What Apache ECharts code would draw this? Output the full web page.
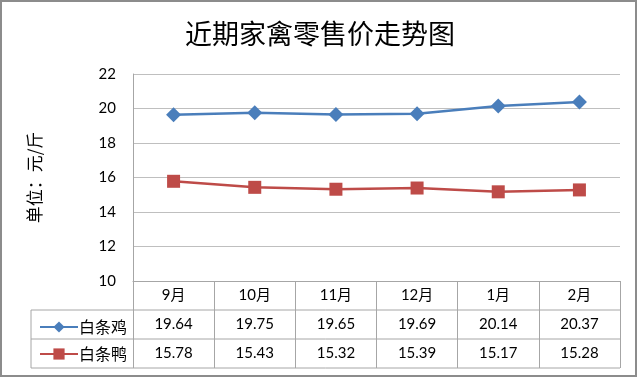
<!DOCTYPE html>
<html>
<head>
<meta charset="utf-8">
<style>
  html, body { margin: 0; padding: 0; background: #fff; }
  #chart { width: 640px; height: 378px; }
</style>
<script src="https://cdn.jsdelivr.net/npm/echarts@6/dist/echarts.min.js"></script>
</head>
<body>
<div id="chart"></div>
<script>
var months = ['9月', '10月', '11月', '12月', '1月', '2月'];
var chickenPrices = [19.64, 19.75, 19.65, 19.69, 20.14, 20.37];
var duckPrices = [15.78, 15.43, 15.32, 15.39, 15.17, 15.28];
var seriesNames = ['白条鸡', '白条鸭'];

var chart = echarts.init(document.getElementById('chart'));

var latin = 'Lato, "Noto Sans CJK SC", sans-serif';
var cjk = '"Noto Sans CJK SC", sans-serif';
var lineGray = '#a6a6a6';

// table geometry (pixels)
var gridLeft = 133, gridRight = 620, gridBottomY = 281;
var rowH = 29, tableLeft = 31;

function valueAxis(values, offset) {
    return {
        type: 'category',
        position: 'bottom',
        offset: offset,
        data: values.map(function (v) { return v.toFixed(2); }),
        axisLine: { show: false },
        axisTick: { show: false },
        axisLabel: { margin: 7, fontSize: 15, color: '#000', fontFamily: latin }
    };
}

var option = {
    animation: false,
    title: {
        text: '近期家禽零售价走势图',
        left: 'center',
        top: 15,
        textStyle: { fontSize: 27, fontWeight: 'normal', color: '#000', fontFamily: cjk }
    },
    legend: {
        orient: 'vertical',
        left: 34,
        top: 314,
        itemWidth: 38,
        itemHeight: 14,
        itemGap: 11,
        selectedMode: false,
        data: seriesNames,
        textStyle: { fontSize: 16, color: '#000', fontFamily: cjk, padding: [0, 0, 0, -4] }
    },
    grid: { left: gridLeft, right: 640 - gridRight, top: 74, bottom: 378 - gridBottomY },
    xAxis: [
        {
            type: 'category',
            data: months,
            boundaryGap: true,
            axisLine: { lineStyle: { color: lineGray, width: 1 } },
            axisTick: { show: true, inside: false, length: rowH * 3, lineStyle: { color: lineGray } },
            axisLabel: { margin: 7, fontSize: 15, color: '#000', fontFamily: latin }
        },
        valueAxis(chickenPrices, rowH),
        valueAxis(duckPrices, rowH * 2)
    ],
    yAxis: {
        type: 'value',
        min: 10,
        max: 22,
        interval: 2,
        name: '单位：元/斤',
        nameLocation: 'middle',
        nameRotate: 90,
        nameGap: 90,
        nameTextStyle: { fontSize: 17, color: '#000', fontFamily: cjk },
        axisLine: { show: true, lineStyle: { color: lineGray } },
        axisTick: { show: false },
        axisLabel: { margin: 17, fontSize: 15, color: '#000', fontFamily: latin },
        splitLine: { lineStyle: { color: '#bfbfbf', width: 1 } }
    },
    series: [
        {
            name: seriesNames[0],
            type: 'line',
            data: chickenPrices,
            symbol: 'diamond',
            symbolSize: 15,
            color: '#4a7ebb',
            lineStyle: { width: 2.5 }
        },
        {
            name: seriesNames[1],
            type: 'line',
            data: duckPrices,
            symbol: 'rect',
            symbolSize: 13,
            color: '#be4b48',
            lineStyle: { width: 2.5 }
        }
    ],
    graphic: [
        // table row lines and the legend column edge
        { type: 'line', shape: { x1: tableLeft, y1: gridBottomY + rowH, x2: gridRight, y2: gridBottomY + rowH }, style: { stroke: lineGray, lineWidth: 1 } },
        { type: 'line', shape: { x1: tableLeft, y1: gridBottomY + rowH * 2, x2: gridRight, y2: gridBottomY + rowH * 2 }, style: { stroke: lineGray, lineWidth: 1 } },
        { type: 'line', shape: { x1: tableLeft, y1: gridBottomY + rowH * 3, x2: gridRight, y2: gridBottomY + rowH * 3 }, style: { stroke: lineGray, lineWidth: 1 } },
        { type: 'line', shape: { x1: tableLeft, y1: gridBottomY + rowH, x2: tableLeft, y2: gridBottomY + rowH * 3 }, style: { stroke: lineGray, lineWidth: 1 } },
        // outer frame
        { type: 'rect', shape: { x: 1, y: 1, width: 635, height: 375 }, style: { fill: 'none', stroke: '#8c8c8c', lineWidth: 2 } }
    ]
};

chart.setOption(option);
</script>
</body>
</html>
